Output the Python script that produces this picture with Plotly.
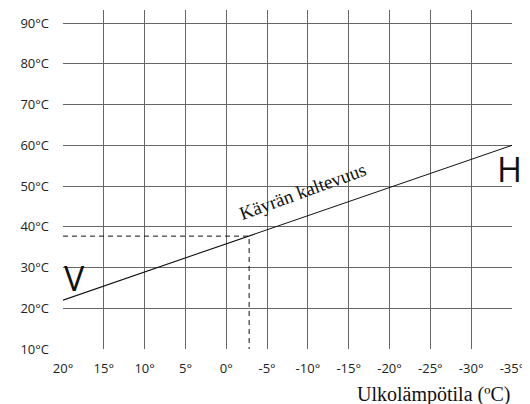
import plotly.graph_objects as go

# Data
outdoor_ticks = [20, 15, 10, 5, 0, -5, -10, -15, -20, -25, -30, -35]
outdoor_labels = ["20°", "15°", "10°", "5°", "0°", "-5°", "-10°", "-15°", "-20°", "-25°", "-30°", "-35°"]
flow_ticks = [10, 20, 30, 40, 50, 60, 70, 80, 90]
flow_labels = ["10°C", "20°C", "30°C", "40°C", "50°C", "60°C", "70°C", "80°C", "90°C"]

curve_x = [20, -35]
curve_y = [22, 60]

example_x = [20, -2.8, -2.8]
example_y = [37.7, 37.7, 10]

fig = go.Figure()
fig.add_trace(go.Scatter(x=curve_x, y=curve_y, mode="lines",
                         line=dict(color="#111", width=1.1), hoverinfo="skip"))
fig.add_trace(go.Scatter(x=example_x, y=example_y, mode="lines",
                         line=dict(color="#111", width=1, dash="5px,4px"), hoverinfo="skip"))

tickfont = dict(family="Open Sans, sans-serif", size=13, color="#222")

fig.update_xaxes(range=[20, -35], tickvals=outdoor_ticks, ticktext=outdoor_labels,
                 showgrid=True, gridcolor="#666", gridwidth=1.4, zeroline=False,
                 showline=False, ticks="", tickfont=tickfont, ticklabelstandoff=10)
fig.update_yaxes(range=[10, 93.2], tickvals=flow_ticks, ticktext=flow_labels,
                 showgrid=True, gridcolor="#666", gridwidth=1.4, zeroline=False,
                 showline=False, ticks="", tickfont=tickfont, ticklabelstandoff=13)

fig.add_annotation(x=-9.3, y=48.6, text="Käyrän kaltevuus", showarrow=False, textangle=-20,
                   font=dict(family="Liberation Serif, serif", size=19, color="#111"))
fig.add_annotation(x=18.6, y=27.4, text="V", showarrow=False,
                   font=dict(family="Open Sans, sans-serif", size=34, color="#111"))
fig.add_annotation(x=-34.7, y=54.2, text="H", showarrow=False,
                   font=dict(family="Open Sans, sans-serif", size=34, color="#111"))
fig.add_annotation(xref="paper", yref="paper", x=1.0, y=0, yshift=-45, xanchor="right",
                   yanchor="middle", text="Ulkolämpötila (ºC)", showarrow=False,
                   font=dict(family="Liberation Serif, serif", size=20, color="#111"))

fig.update_layout(width=522, height=396, margin=dict(l=55, r=18, t=2, b=55),
                  plot_bgcolor="white", paper_bgcolor="white", showlegend=False)

fig.write_html("out.html")
